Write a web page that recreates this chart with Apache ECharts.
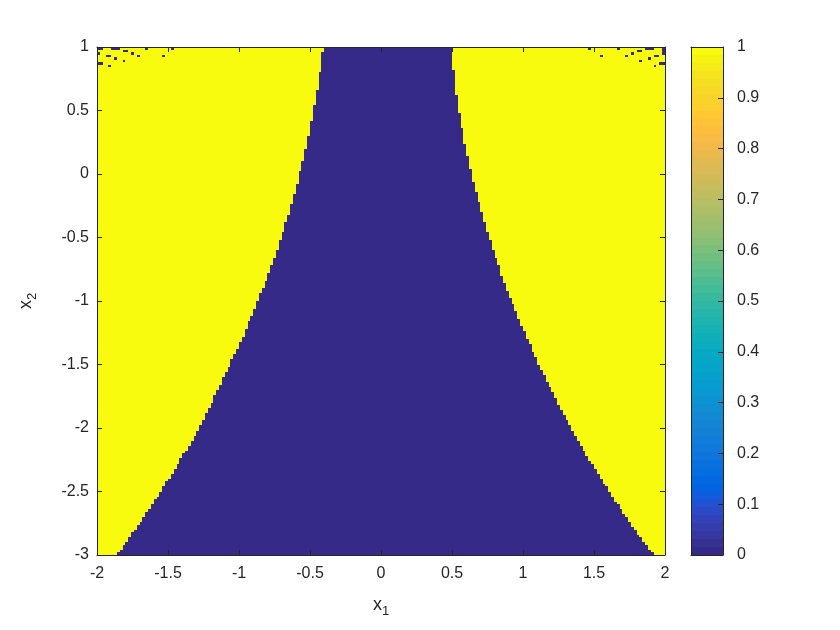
<!DOCTYPE html>
<html><head><meta charset="utf-8">
<script src="https://cdn.jsdelivr.net/npm/echarts@6.0.0/dist/echarts.min.js"></script>
<style>html,body{margin:0;padding:0;background:#fff}#c{width:840px;height:630px}</style>
</head><body><div id="c"></div>
<script>
// ---- grid description (200 x 200 cells, x in [-2,2], y in [-3,1]) ----
const nCols = 200, nRows = 200;
const xMin = -2, xMax = 2, yMin = -3, yMax = 1;
const xTickStep = 0.5, yTickStep = 0.5, cbarTickStep = 0.1;

// first dark column of each run of rows (top to bottom) and how many rows it lasts
const leftCol  = [80,79,78,77,76,75,74,73,72,71,70,69,68,67,66,65,64,63,62,61,60,59,58,57,56,55,54,53,52,51,50,49,48,47,46,45,44,43,42,41,40,39,38,37,36,35,34,33,32,31,30,29,28,27,26,25,24,23,22,21,20,19,18,17,16,15,14,13,12,11,10,9,8,7];
const leftRows = [2,8,7,6,6,6,5,5,4,5, 4,4,4,3,4,3,4,3,3,3, 3,3,2,3,3,3,2,3,3,2, 3,2,2,3,2,2,3,2,2,3, 2,2,3,2,2,2,2,2,2,1, 2,2,2,2,2,1,2,2,2,1, 2,2,1,2,2,1,2,1,2,2, 1,2,1,1];
// first yellow column to the right of the dark band, per run of rows
const rightCol  = [125,126,127,128,129,130,131,132,133,134,135,136,137,138,139,140,141,142,143,144,145,146,147,148,149,150,151,152,153,154,155,156,157,158,159,160,161,162,163,164,165,166,167,168,169,170,171,172,173,174,175,176,177,178,179,180,181,182,183,184,185,186,187,188,189,190,191,192,193,194,195,196];
const rightRows = [9,10,7,6,6,5,5,5,4,4, 4,4,4,3,4,3,3,4,3,3, 3,2,3,3,3,2,3,2,3,2, 3,2,2,3,2,2,2,3,2,2, 2,2,2,2,2,2,2,2,2,1, 2,2,2,2,1,2,2,2,1,2, 2,1,2,2,1,2,1,2,1,2, 1,1];
// isolated dark cells in the top corners: [col, row]
const noiseCells = [[0,0],[1,0],[5,0],[6,0],[7,0],[17,0],[26,0],[9,1],[10,1],[0,2],[12,2],[3,3],[4,3],[14,3],[23,3],[6,4],[9,5],[0,6],[1,6],[4,7],
  [173,0],[183,0],[193,0],[194,0],[195,0],[199,0],[199,1],[190,1],[191,1],[199,2],[188,2],[177,3],[186,3],[196,3],[197,3],[194,4],[191,5],[198,6],[199,6],[196,7]];

// parula colormap (64 levels)
const parula = ['#352a87','#363093','#3637a0','#353dad','#3243ba','#2c4ac7','#2053d4','#0f5cdd','#0363e1','#0268e1','#046de0','#0871de','#0d75dc','#1079da','#127dd8','#1481d6',
'#1485d4','#1389d3','#108ed2','#0c93d2','#0998d1','#079ccf','#06a0cd','#06a4ca','#06a7c6','#07a9c2','#0aacbe','#0faeb9','#15b1b4','#1db3af','#25b5a9','#2eb7a4',
'#38b99e','#42bb98','#4dbc92','#59bd8c','#65be86','#71bf80','#7cbf7b','#87bf77','#92bf73','#9cbf6f','#a5be6b','#aebe67','#b7bd64','#c0bc60','#c8bc5d','#d1bb59',
'#d9ba56','#e1b952','#e9b94e','#f1b94a','#f8bb44','#fdbe3d','#ffc337','#fec832','#fcce2e','#fad32a','#f7d826','#f5de21','#f5e41d','#f5eb18','#f6f313','#f9fb0e'];

function expand(cols, runs) { const out = []; cols.forEach((c, k) => { for (let r = 0; r < runs[k]; r++) out.push(c); }); return out; }
const L = expand(leftCol, leftRows), R = expand(rightCol, rightRows);
const dx = (xMax - xMin) / nCols, dy = (yMax - yMin) / nRows;

const cells = [];
for (let i = 0; i < nRows; i++) {
  const yTop = yMax - i * dy, yBot = yMax - (i + 1) * dy;
  cells.push([xMin, xMin + L[i] * dx, yBot, yTop, 1]);
  cells.push([xMin + L[i] * dx, xMin + R[i] * dx, yBot, yTop, 0]);
  cells.push([xMin + R[i] * dx, xMax, yBot, yTop, 1]);
}
noiseCells.forEach(([c, r]) => cells.push([xMin + c * dx, xMin + (c + 1) * dx, yMax - (r + 1) * dy, yMax - r * dy, 0]));

const cbar = parula.map((_, i) => [0, 1, i / parula.length, (i + 1) / parula.length, (i + 0.5) / parula.length]);

function colorOf(v) { return parula[Math.max(0, Math.min(parula.length - 1, Math.floor(v * parula.length)))]; }
function renderRect(params, api) {
  const a = api.coord([api.value(0), api.value(3)]);
  const b = api.coord([api.value(1), api.value(2)]);
  const x = Math.round(a[0]), y = Math.round(a[1]);
  return { type: 'rect', shape: { x: x, y: y, width: Math.round(b[0]) - x, height: Math.round(b[1]) - y },
           style: { fill: colorOf(api.value(4)) } };
}

const ink = '#262626';
const FONT = 'Liberation Sans';
const lbl = { color: ink, fontFamily: FONT, fontSize: 16 };
const line = { show: true, onZero: false, lineStyle: { color: ink, width: 1 } };
const tickIn = { show: true, inside: true, length: 5, lineStyle: { color: ink } };
const nameRich = { x: { fontFamily: FONT, fontSize: 18, color: ink }, s: { fontFamily: FONT, fontSize: 13, color: ink, padding: [12, 0, 0, 0] } };

const chart = echarts.init(document.getElementById('c'), null, { renderer: 'canvas' });
chart.setOption({
  animation: false,
  backgroundColor: '#fff',
  grid: [
    { left: 97, right: 175, top: 47, bottom: 75 },
    { left: 691, right: 117, top: 47, bottom: 75 }
  ],
  xAxis: [
    { gridIndex: 0, type: 'value', min: xMin, max: xMax, interval: xTickStep, position: 'bottom', z: 10,
      axisLine: line, axisTick: tickIn, splitLine: { show: false }, axisLabel: Object.assign({ margin: 11 }, lbl),
      name: '{x|x}{s|1}', nameLocation: 'middle', nameGap: 38, nameTextStyle: { rich: nameRich } },
    { gridIndex: 0, type: 'value', min: xMin, max: xMax, interval: xTickStep, position: 'top', z: 10,
      axisLine: line, axisTick: tickIn, splitLine: { show: false }, axisLabel: { show: false } },
    { gridIndex: 1, type: 'value', min: 0, max: 1, position: 'bottom', z: 10,
      axisLine: line, axisTick: { show: false }, splitLine: { show: false }, axisLabel: { show: false } },
    { gridIndex: 1, type: 'value', min: 0, max: 1, position: 'top', z: 10,
      axisLine: line, axisTick: { show: false }, splitLine: { show: false }, axisLabel: { show: false } }
  ],
  yAxis: [
    { gridIndex: 0, type: 'value', min: yMin, max: yMax, interval: yTickStep, position: 'left', z: 10,
      axisLine: line, axisTick: tickIn, splitLine: { show: false }, axisLabel: Object.assign({ margin: 8 }, lbl),
      name: '{x|x}{s|2}', nameLocation: 'middle', nameGap: 58, nameRotate: 90, nameTextStyle: { rich: nameRich } },
    { gridIndex: 0, type: 'value', min: yMin, max: yMax, interval: yTickStep, position: 'right', z: 10,
      axisLine: line, axisTick: tickIn, splitLine: { show: false }, axisLabel: { show: false } },
    { gridIndex: 1, type: 'value', min: 0, max: 1, position: 'left', z: 10,
      axisLine: line, axisTick: { show: false }, splitLine: { show: false }, axisLabel: { show: false } },
    { gridIndex: 1, type: 'value', min: 0, max: 1, interval: cbarTickStep, position: 'right', z: 10,
      axisLine: line, axisTick: tickIn, splitLine: { show: false }, axisLabel: Object.assign({ margin: 14 }, lbl) }
  ],
  series: [
    { type: 'custom', xAxisIndex: 0, yAxisIndex: 0, data: cells, renderItem: renderRect, clip: true,
      encode: { x: [0, 1], y: [2, 3] }, silent: true },
    { type: 'custom', xAxisIndex: 2, yAxisIndex: 3, data: cbar, renderItem: renderRect, clip: true,
      encode: { x: [0, 1], y: [2, 3] }, silent: true }
  ]
});
</script></body></html>
